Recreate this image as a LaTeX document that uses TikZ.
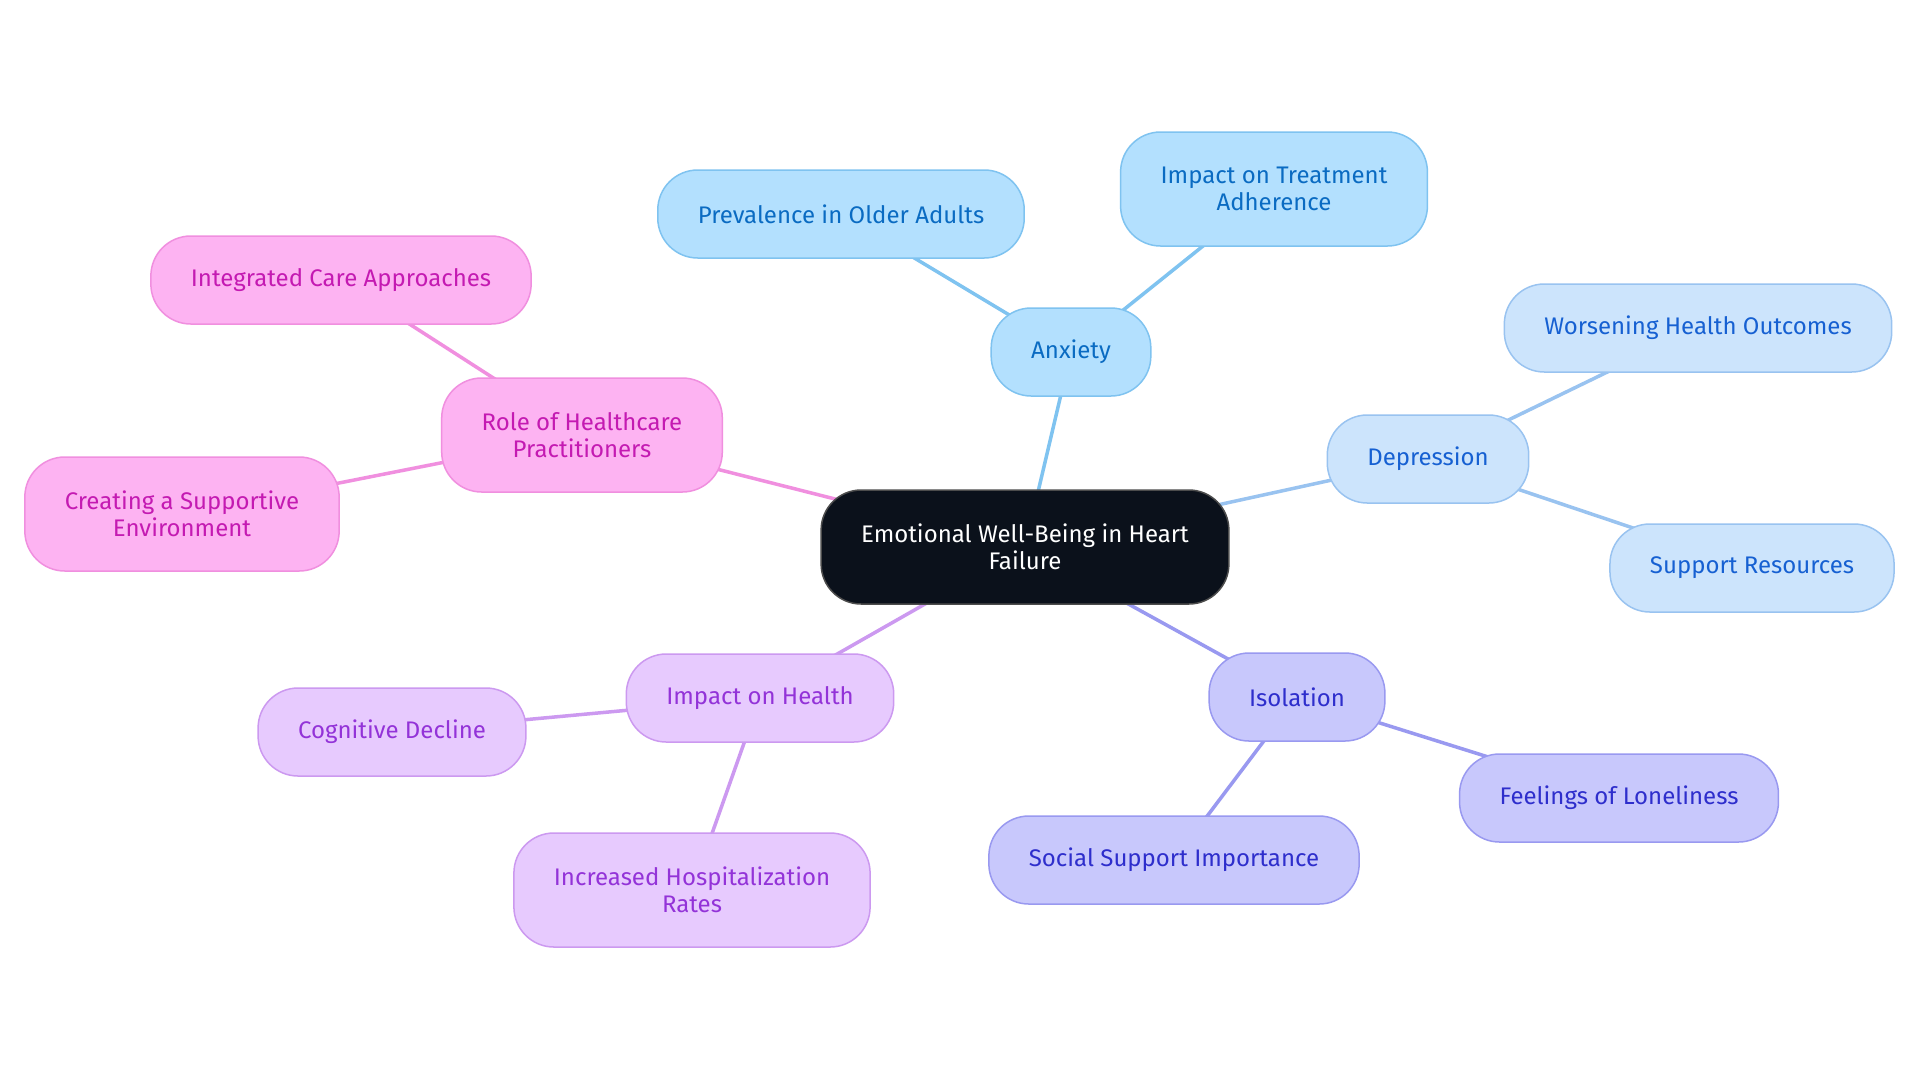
\documentclass[tikz,border=0pt]{standalone}
\usepackage{fontspec}
\setmainfont{Fira Sans}
\usepackage{xcolor}
\usetikzlibrary{positioning}
\pgfdeclarelayer{background}
\pgfsetlayers{background,main}

\definecolor{rootfill}{HTML}{0B111B}
\definecolor{anxfill}{HTML}{B3E0FE}
\definecolor{anxline}{HTML}{7FC3F0}
\definecolor{anxtext}{HTML}{0A6BC2}
\definecolor{depfill}{HTML}{CCE4FC}
\definecolor{depline}{HTML}{99C3F0}
\definecolor{deptext}{HTML}{1660D2}
\definecolor{isofill}{HTML}{C8C8FC}
\definecolor{isoline}{HTML}{9999F0}
\definecolor{isotext}{HTML}{2E2ECC}
\definecolor{hlthfill}{HTML}{E7CAFE}
\definecolor{hlthline}{HTML}{CC99F0}
\definecolor{hlthtext}{HTML}{9333D8}
\definecolor{rolefill}{HTML}{FDB3F2}
\definecolor{roleline}{HTML}{F08FDF}
\definecolor{roletext}{HTML}{C41AB2}

\begin{document}
\begin{tikzpicture}[x=0.5pt,y=-0.5pt,auto]
		\tikzstyle{every node}=[font=\fontsize{12}{13.5}\selectfont]
		\tikzstyle{bubble}=[draw,line width=0.75pt,rounded corners=20pt,align=center,minimum height=44pt,inner xsep=20pt,inner ysep=16pt]
		\tikzstyle{twoline}=[minimum height=57pt]
		\tikzstyle{anx}=[bubble,fill=anxfill,draw=anxline,text=anxtext]
		\tikzstyle{dep}=[bubble,fill=depfill,draw=depline,text=deptext]
		\tikzstyle{iso}=[bubble,fill=isofill,draw=isoline,text=isotext]
		\tikzstyle{hlth}=[bubble,fill=hlthfill,draw=hlthline,text=hlthtext]
		\tikzstyle{role}=[bubble,fill=rolefill,draw=roleline,text=roletext]
		\tikzstyle{link}=[line width=1.75pt]
		\useasboundingbox (0,0) rectangle (1920,1083);
		% center
		\node[bubble,twoline,fill=rootfill,draw=black!70,text=white] (root) at (1025,547) {Emotional Well-Being in Heart\\Failure};
		% anxiety
		\node[anx]    (anx) at (1071,352) {Anxiety};
		\node[anx]    (prev) at (841,214) {Prevalence in Older Adults};
		\node[anx,twoline]    (adh) at (1274,189) {Impact on Treatment\\Adherence};
		% depression
		\node[dep]    (dep) at (1428,459) {Depression};
		\node[dep]    (worse) at (1698,328) {Worsening Health Outcomes};
		\node[dep]    (supp) at (1752,568) {Support Resources};
		% isolation
		\node[iso]    (iso) at (1297,697) {Isolation};
		\node[iso]    (lone) at (1619,798) {Feelings of Loneliness};
		\node[iso]    (social) at (1174,860) {Social Support Importance};
		% impact on health
		\node[hlth]   (hlth) at (760,698) {Impact on Health};
		\node[hlth]   (cogn) at (392,732) {Cognitive Decline};
		\node[hlth,twoline]   (hosp) at (692,890) {Increased Hospitalization\\Rates};
		% practitioners
		\node[role,twoline]   (role) at (582,435) {Role of Healthcare\\Practitioners};
		\node[role]   (integ) at (341,280) {Integrated Care Approaches};
		\node[role,twoline]   (env) at (182,514) {Creating a Supportive\\Environment};
		% white page and links, behind the bubbles
		\begin{pgfonlayer}{background}
		\fill[white] (0,0) rectangle (1920,1083);
		\path[link]
		(root.center) edge[anxline] (anx.center)
		(anx.center) edge[anxline] (prev.center)
		(anx.center) edge[anxline] (adh.center)
		(root.center) edge[depline] (dep.center)
		(dep.center) edge[depline] (worse.center)
		(dep.center) edge[depline] (supp.center)
		(root.center) edge[isoline] (iso.center)
		(iso.center) edge[isoline] (lone.center)
		(iso.center) edge[isoline] (social.center)
		(root.center) edge[hlthline] (hlth.center)
		(hlth.center) edge[hlthline] (cogn.center)
		(hlth.center) edge[hlthline] (hosp.center)
		(root.center) edge[roleline] (role.center)
		(role.center) edge[roleline] (integ.center)
		(role.center) edge[roleline] (env.center);
		\end{pgfonlayer}
	\end{tikzpicture}
\end{document}
